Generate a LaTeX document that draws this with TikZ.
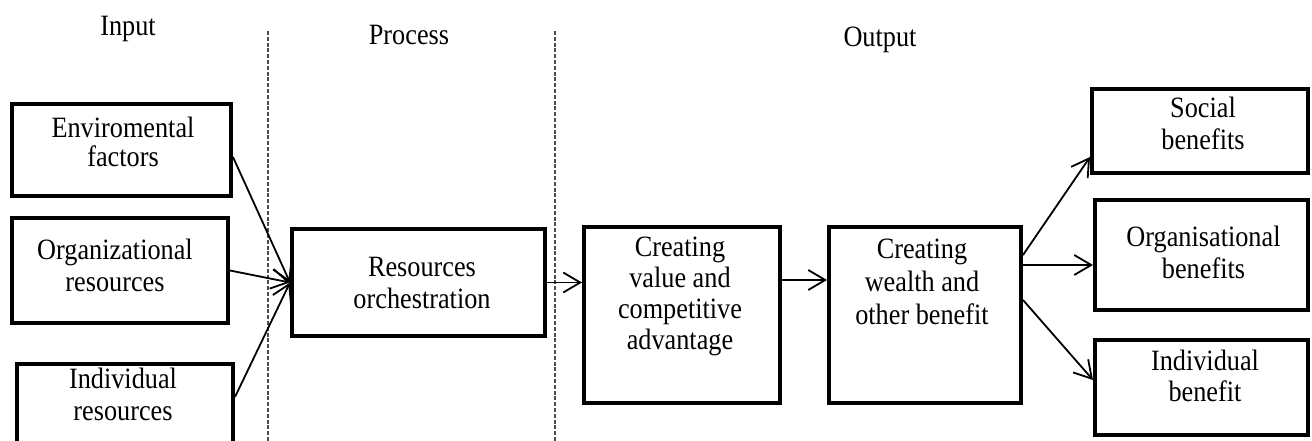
\documentclass[tikz,border=0pt]{standalone}
\usepackage{fontspec}
\setmainfont[FakeStretch=0.89]{Liberation Serif}
\usetikzlibrary{arrows.meta,calc}
\newcommand{\tstrut}{\rule{0pt}{21pt}}
\begin{document}
\begin{tikzpicture}[x=1pt,y=-1pt,
  box/.style={draw,line width=4pt,inner sep=0pt,minimum width=#1},
  txt/.style={align=center,inner sep=0pt,anchor=north,font=\fontsize{29.5}{#1}\selectfont},
  txt/.default=32,
  conn/.style={line width=1.8pt,-{Straight Barb[length=17pt,width=20pt,line width=1.8pt]}},
  divider/.style={black!70,line width=2.8pt,dash pattern=on 4pt off 1.8pt}]
\useasboundingbox (0,0) rectangle (1312,441);
% headings
\node[txt] (hin) at (128,14) {\tstrut Input};
\node[txt] (hpr) at (409,23) {\tstrut Process};
\node[txt] (hout) at (880,25.7) {\tstrut Output};
% dividers
\coordinate (d1t) at (268,31);
\coordinate (d1b) at (268,441);
\coordinate (d2t) at (555,31);
\coordinate (d2b) at (555,441);
\draw[divider] (d1t) -- (d1b);
\draw[divider] (d2t) -- (d2b);
% boxes
\node[box=219pt,minimum height=92pt] (env) at (121.5,150) {};
\node[box=216pt,minimum height=105pt] (org) at (120,270.5) {};
\node[box=216pt,minimum height=81pt] (ind) at (125,404.5) {};
\node[box=253pt,minimum height=107pt] (res) at (418.5,282.5) {};
\node[box=196pt,minimum height=176pt] (val) at (682,315) {};
\node[box=192pt,minimum height=176pt] (wea) at (925,315) {};
\node[box=216pt,minimum height=84pt] (soc) at (1200,131) {};
\node[box=213pt,minimum height=110pt] (orgb) at (1201.5,255) {};
\node[box=213pt,minimum height=95pt] (indb) at (1201.5,387.5) {};
% texts
\node[txt=29.5] (envt) at (123,116.3) {\tstrut Enviromental\\factors};
\node[txt] (orgt) at (115,238.3) {\tstrut Organizational\\resources};
\node[txt] (indt) at (123,367.3) {\tstrut Individual\\resources};
\node[txt=31.6] (rest) at (422,255.7) {\tstrut Resources\\orchestration};
\node[txt=31] (valt) at (680,235.7) {\tstrut Creating\\value and\\competitive\\advantage};
\node[txt=33] (weat) at (922,237.3) {\tstrut Creating\\wealth and\\other benefit};
\node[txt] (soct) at (1203,96.3) {\tstrut Social\\benefits};
\node[txt=31.6] (orgbt) at (1203.5,225.7) {\tstrut Organisational\\benefits};
\node[txt=31.7] (indbt) at (1205,349) {\tstrut Individual\\benefit};
% connectors
\draw[conn] ($(env.east)+(0,7)$) -- (res.west);
\draw[conn] (org.east) -- (res.west);
\draw[conn] ($(ind.east)+(0,-7.5)$) -- (res.west);
\draw[conn] (res.east) -- (res.east -| val.west);
\draw[conn] ($(val.north east)+(0,55)$) -- ($(wea.north west)+(0,55)$);
\draw[conn] ($(wea.north east)+(0,30)$) -- ($(soc.south west)+(0,-18)$);
\draw[conn] ($(wea.north east)+(0,40)$) -- ($(orgb.north west)+(0,67)$);
\draw[conn] ($(wea.north east)+(0,75)$) -- ($(indb.north west)+(0,42)$);
\end{tikzpicture}
\end{document}
